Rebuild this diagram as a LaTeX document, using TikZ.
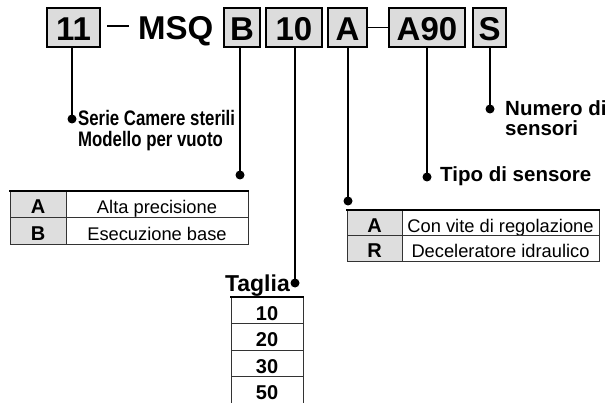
\documentclass[tikz,border=0pt]{standalone}
\usepackage{fontspec}
\setmainfont{Liberation Sans}
\newfontfamily\narrowfont{Liberation Sans}[FakeStretch=0.8]
\definecolor{boxgray}{RGB}{220,220,220}
\definecolor{cellgray}{RGB}{222,222,222}
\tikzset{
  topbox/.style={draw=black, line width=1.6pt, fill=boxgray, inner sep=0pt,
    minimum height=39pt, text height=26.5pt, text depth=0pt,
    font=\fontsize{33}{33}\selectfont\bfseries},
  bulletdot/.style={circle, fill=black, inner sep=0pt, minimum size=9pt},
  conn/.style={line width=1.6pt},
  lbl/.style={inner sep=0pt, anchor=base west, font=\fontsize{20.5}{20.5}\selectfont\bfseries},
  narrowlbl/.style={inner sep=0pt, anchor=base west, font=\narrowfont\fontsize{21}{21}\selectfont\bfseries},
  cellbase/.style={draw=black!80, line width=0.8pt, inner sep=0pt, text height=19.5pt, text depth=0pt},
  keycell/.style={cellbase, fill=cellgray, font=\fontsize{20}{20}\selectfont\bfseries},
  desccell/.style={cellbase, font=\fontsize{18.3}{18.3}\selectfont},
  sizecell/.style={cellbase, font=\fontsize{20}{20}\selectfont\bfseries},
  topline/.style={line width=2pt, line cap=rect},
}
\begin{document}
\begin{tikzpicture}[x=1pt,y=-1pt]
\fill[white] (0,0) rectangle (610,403);
\useasboundingbox (0,0) rectangle (610,403);

% top code boxes
\node[topbox, minimum width=53pt] (b11) at (73.5,27.5) {11};
\coordinate (dashL) at (107,26);
\coordinate (dashR) at (129,26);
\draw[line width=2.6pt] (dashL) -- (dashR);
\node[inner sep=0pt, anchor=base west, font=\fontsize{33}{33}\selectfont\bfseries] (msq) at (138,40) {MSQ};
\node[topbox, minimum width=36pt] (bB) at (242,27.5) {B};
\node[topbox, minimum width=56pt] (b10) at (294,27.5) {10};
\node[topbox, minimum width=39pt] (bA) at (347.5,27.5) {A};
\node[topbox, minimum width=76pt] (bA90) at (427,27.5) {A90};
\node[topbox, minimum width=33pt] (bS) at (489.5,27.5) {S};
\draw[conn] (bA.east) -- (bA90.west);

% bullets
\node[bulletdot] (d11) at (72,119) {};
\node[bulletdot] (dB) at (240,175) {};
\node[bulletdot] (d10) at (295,283) {};
\node[bulletdot] (dA) at (348,201) {};
\node[bulletdot] (dA90) at (427,177) {};
\node[bulletdot] (dS) at (490,109) {};

% connectors
\draw[conn] (b11.south -| d11.center) -- (d11.center);
\draw[conn] (bB.south -| dB.center) -- (dB.center);
\draw[conn] (b10.south -| d10.center) -- (d10.center);
\draw[conn] (bA.south -| dA.center) -- (dA.center);
\draw[conn] (bA90.south -| dA90.center) -- (dA90.center);
\draw[conn] (bS.south -| dS.center) -- (dS.center);

% labels
\node[narrowlbl] (serie) at (78,126) {Serie Camere sterili};
\node[narrowlbl] (modello) at (78,147) {Modello per vuoto};
\node[lbl] (numero) at (505,116) {Numero di};
\node[lbl] (sensori) at (505,135.5) {sensori};
\node[lbl] (tipo) at (440,182) {Tipo di sensore};
\node[lbl, anchor=base east, font=\fontsize{23}{23}\selectfont\bfseries] (taglia) at (290,291) {Taglia};

% left table
\node[keycell, minimum width=56pt, minimum height=26.5pt] (lkA) at (38,204.25) {A};
\node[desccell, minimum width=182pt, minimum height=26.5pt] (ldA) at (157,204.25) {Alta precisione};
\node[keycell, minimum width=56pt, minimum height=26.5pt] (lkB) at (38,230.75) {B};
\node[desccell, minimum width=182pt, minimum height=26.5pt] (ldB) at (157,230.75) {Esecuzione base};
\draw[topline] (lkA.north west) -- (ldA.north east);

% right table
\node[keycell, minimum width=55pt, minimum height=25.5pt] (rkA) at (374.5,222.75) {A};
\node[desccell, minimum width=197pt, minimum height=25.5pt] (rdA) at (500.5,222.75) {Con vite di regolazione};
\node[keycell, minimum width=55pt, minimum height=25.5pt] (rkR) at (374.5,248.25) {R};
\node[desccell, minimum width=197pt, minimum height=25.5pt] (rdR) at (500.5,248.25) {Deceleratore idraulico};
\draw[topline] (rkA.north west) -- (rdA.north east);

% size table
\node[sizecell, minimum width=72pt, minimum height=26.5pt] (s10) at (267,310.25) {10};
\node[sizecell, minimum width=72pt, minimum height=26.5pt] (s20) at (267,336.75) {20};
\node[sizecell, minimum width=72pt, minimum height=26.5pt] (s30) at (267,363.25) {30};
\node[sizecell, minimum width=72pt, minimum height=26.5pt] (s50) at (267,389.75) {50};
\draw[topline] (s10.north west) -- (s10.north east);
\end{tikzpicture}
\end{document}
